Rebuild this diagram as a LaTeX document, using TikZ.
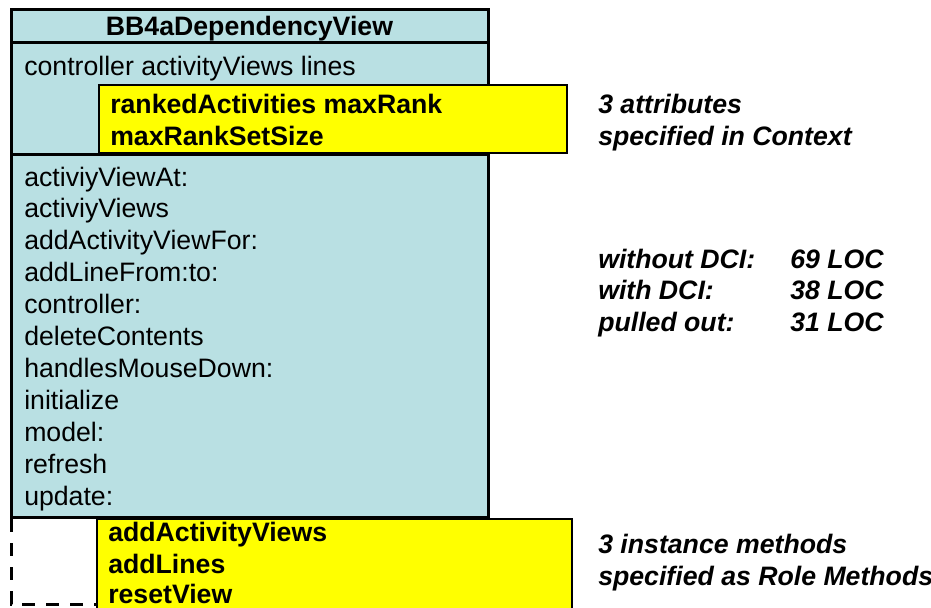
\documentclass[tikz,border=0pt]{standalone}
\usepackage{fontspec}
\setmainfont{Liberation Sans}
\usepackage{tikz}
\usetikzlibrary{positioning}
\definecolor{classblue}{RGB}{185,224,227}
\definecolor{roleyellow}{RGB}{255,255,0}

\begin{document}
\begin{tikzpicture}[x=0.75pt, y=-0.75pt,
    txt/.style={anchor=base west, inner sep=0pt, font=\fontsize{20}{24}\selectfont},
    boldtxt/.style={txt, font=\fontsize{20}{24}\selectfont\bfseries},
    note/.style={txt, font=\fontsize{20}{24}\selectfont\bfseries\itshape},
    classbox/.style={draw=black, line width=2.25pt, fill=classblue},
    rolebox/.style={draw=black, line width=1.6pt, fill=roleyellow}]
    \useasboundingbox (0,0) rectangle (931,607);

    % Class compartments
    \draw[classbox] (11,9) rectangle (488,42);
    \draw[classbox] (11,42) rectangle (488,154);
    \draw[classbox] (11,154) rectangle (488,517);
    \node[anchor=base, inner sep=0pt, font=\fontsize{20}{24}\selectfont\bfseries] (title) at (249.5,35) {BB4aDependencyView};
    \node[txt] (attrs) at (24,75) {controller activityViews lines};

    % Context attributes
    \draw[rolebox] (99,85) rectangle (567,153);
    \node[boldtxt] (ctx1) at (110,113) {rankedActivities maxRank};
    \node[boldtxt] (ctx2) at (110,145) {maxRankSetSize};

    % Instance methods
    \foreach \name [count=\i from 0] in {activiyViewAt:, activiyViews, addActivityViewFor:, addLineFrom:to:, controller:, deleteContents, handlesMouseDown:, initialize, model:, refresh, update:}
        \node[txt] (m\i) at (24,{186+31.9*\i}) {\name};

    % Role methods
    \draw[line width=2.25pt, dash pattern=on 10pt off 8pt] (11,519) -- (11,604) -- (97,604);
    \draw[rolebox] (97,519) rectangle (572,620);
    \node[boldtxt] (r1) at (108,541.5) {addActivityViews};
    \node[boldtxt] (r2) at (108,573) {addLines};
    \node[boldtxt] (r3) at (108,603) {resetView};

    % Notes
    \node[note] (n1) at (598,113) {3 attributes};
    \node[note] (n2) at (598,145) {specified in Context};
    \node[note] (l1) at (598,268) {without DCI:};
    \node[note] (l2) at (598,299.5) {with DCI:};
    \node[note] (l3) at (598,331) {pulled out:};
    \node[note] (v1) at (790,268) {69 LOC};
    \node[note] (v2) at (790,299.5) {38 LOC};
    \node[note] (v3) at (790,331) {31 LOC};
    \node[note] (n3) at (598,553) {3 instance methods};
    \node[note] (n4) at (598,585) {specified as Role Methods};
\end{tikzpicture}
\end{document}
